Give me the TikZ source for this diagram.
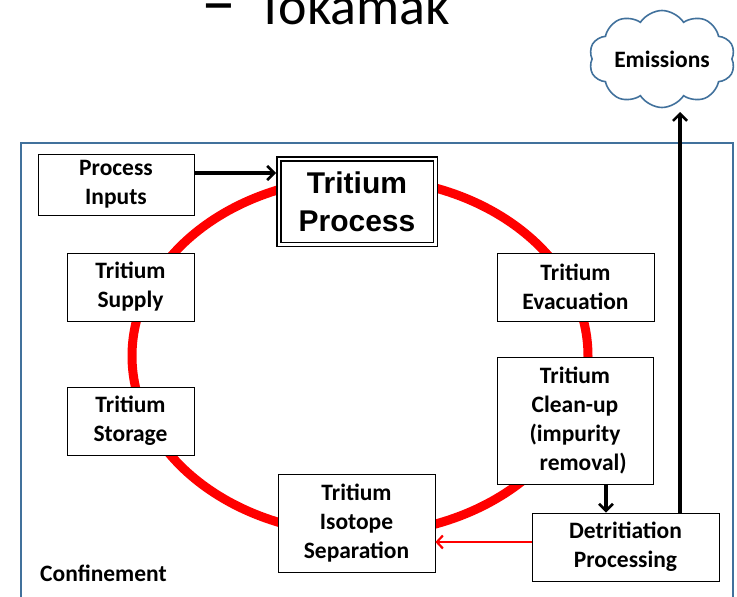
\documentclass[tikz,border=0pt]{standalone}
\usepackage{fontspec}
\setmainfont{Carlito}
\newfontfamily\arialf{Liberation Sans}
\usetikzlibrary{arrows.meta,shapes.symbols}
\definecolor{confblue}{RGB}{65,113,156}
\definecolor{ringred}{RGB}{255,0,0}
\begin{document}
\begin{tikzpicture}[x=1pt,y=1pt,
  boxfont/.style={font=\bfseries\fontsize{23.5}{29}\selectfont},
  box/.style={draw=black,line width=0.8pt,fill=white,align=center,boxfont,inner sep=0pt},
  blackarrow/.style={line width=3.2pt,-{Straight Barb[length=7pt,width=14pt,line width=2.6pt]}},
  redarrow/.style={ringred,line width=2.4pt,-{Straight Barb[length=6pt,width=13pt,line width=2.2pt]}}
]
\useasboundingbox (0,0) rectangle (737,-597);
\clip (0,0) rectangle (737,-597);

% title (cut off at top)
\node[anchor=base west,inner sep=0pt,font=\fontsize{70}{76}\selectfont] (tdash) at (201,-25) {–};
\node[anchor=base west,inner sep=0pt,font=\fontsize{54}{60}\selectfont] (title) at (257,-24) {Tokamak};

% confinement boundary
\draw[confblue,line width=2pt] (21,-143) rectangle (733,-610);
\node[anchor=base west,inner sep=0pt,boxfont] (conf) at (40,-581) {Confinement};

% red ring
\draw[ringred,line width=9pt] (360,-356) ellipse [x radius=228, y radius=178];

% boxes
\node[box,minimum width=156pt,minimum height=61pt] (pin) at (116,-184.5) {Process\\Inputs};
\node[box,draw=black,line width=1.5pt,double=white,double distance=2.5pt,
  minimum width=156.5pt,minimum height=85.5pt,
  font=\arialf\bfseries\fontsize{30}{38}\selectfont] (tp) at (357,-201.5) {Tritium\\Process};
\node[box,minimum width=127pt,minimum height=68pt] (sup) at (130.5,-287) {Tritium\\Supply};
\node[box,minimum width=127pt,minimum height=68pt] (sto) at (130.5,-421) {Tritium\\Storage};
\node[box,minimum width=157pt,minimum height=68pt] (eva) at (575.5,-287) {Tritium\\Evacuation};
\node[box,minimum width=156pt,minimum height=127pt] (cln) at (575,-420.5) {Tritium\\Clean-up\\(impurity\\\hspace*{0.7em}removal)};
\node[box,minimum width=187pt,minimum height=68pt] (det) at (625.5,-547) {Detritiation\\Processing};
\node[box,minimum width=157pt,minimum height=98pt] (iso) at (356.5,-523) {Tritium\\Isotope\\Separation};

% emissions cloud
\node[cloud,cloud puffs=10,cloud puff arc=115,cloud ignores aspect,draw=confblue,line width=1.6pt,fill=white,
  minimum width=146pt,minimum height=97pt,inner sep=0pt,boxfont] (emi) at (662,-59) {Emissions};

% connectors
\draw[blackarrow] ([yshift=11.5pt]pin.east) -- ([yshift=11.5pt,xshift=-2pt]pin.east -| tp.west);
\coordinate (emiin) at (680,-112);
\draw[blackarrow] (det.north -| emiin) -- (emiin);
\draw[blackarrow] (cln.south -| 606,0) -- (det.north -| 606,0);
\draw[redarrow] ([yshift=5pt]det.west) -- ([yshift=5pt]det.west -| iso.east);
\end{tikzpicture}
\end{document}
